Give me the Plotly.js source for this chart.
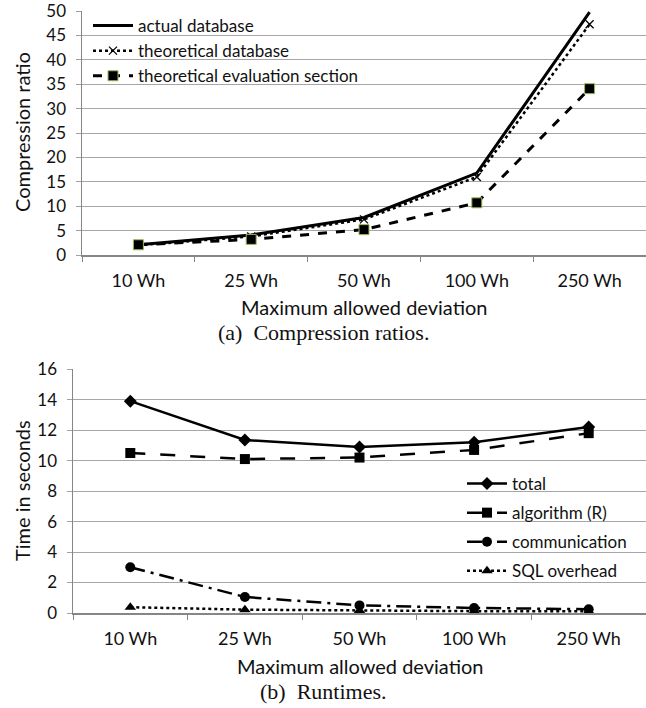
<!DOCTYPE html>
<html>
<head>
<meta charset="utf-8">
<script src="https://cdn.plot.ly/plotly-3.0.1.min.js"></script>
<style>html,body{margin:0;padding:0;background:#fff;}#chart{width:646px;height:708px;}</style>
</head>
<body>
<div id="chart"></div>
<script>
const categories = ["10 Wh", "25 Wh", "50 Wh", "100 Wh", "250 Wh"];

// (a) Compression ratios
const actualDatabase = [2.1, 4.1, 7.7, 16.8, 49.8];
const theoreticalDatabase = [2.0, 3.8, 7.3, 16.0, 47.3];
const theoreticalEvalSection = [2.1, 3.2, 5.2, 10.7, 34.1];

// (b) Runtimes
const totalTime = [13.9, 11.35, 10.9, 11.2, 12.2];
const algorithmTime = [10.5, 10.1, 10.2, 10.7, 11.8];
const communicationTime = [3.0, 1.05, 0.5, 0.33, 0.25];
const sqlOverhead = [0.38, 0.22, 0.17, 0.12, 0.12];

const FONT = "Lato, 'Open Sans', sans-serif";
const SERIF = "'Liberation Serif', 'DejaVu Serif', serif";
const W = 646, H = 708;
const px = v => v / W;
const py = v => 1 - v / H;

const traces = [
  {x: categories, y: actualDatabase, name: "actual database", type: "scatter", mode: "lines",
   line: {color: "#000", width: 3}, xaxis: "x", yaxis: "y", legend: "legend", legendgroup: "a1"},
  {x: categories, y: theoreticalDatabase, name: "theoretical database", type: "scatter", mode: "lines+markers",
   line: {color: "#000", width: 2.5, dash: "dot"},
   marker: {symbol: "x-thin", size: 8, line: {color: "#000", width: 1.3}},
   xaxis: "x", yaxis: "y", legend: "legend", legendgroup: "a2"},
  {x: categories, y: theoreticalEvalSection, name: "theoretical evaluation section", type: "scatter", mode: "lines+markers",
   line: {color: "#000", width: 3, dash: "dash"},
   marker: {symbol: "square", size: 10, color: "#000", line: {color: "#9bbb59", width: 1}},
   xaxis: "x", yaxis: "y", legend: "legend", legendgroup: "a3"},

  {x: categories, y: totalTime, name: "total", type: "scatter", mode: "lines+markers",
   line: {color: "#000", width: 2.5},
   marker: {symbol: "diamond", size: 10, color: "#000"},
   xaxis: "x2", yaxis: "y2", legend: "legend2", legendgroup: "b1"},
  {x: categories, y: algorithmTime, name: "algorithm (R)", type: "scatter", mode: "lines+markers",
   line: {color: "#000", width: 2.5, dash: "longdash"},
   marker: {symbol: "square", size: 10, color: "#000"},
   xaxis: "x2", yaxis: "y2", legend: "legend2", legendgroup: "b2"},
  {x: categories, y: communicationTime, name: "communication", type: "scatter", mode: "lines+markers",
   line: {color: "#000", width: 2.5, dash: "longdashdot"},
   marker: {symbol: "circle", size: 10, color: "#000"},
   xaxis: "x2", yaxis: "y2", legend: "legend2", legendgroup: "b3"},
  {x: categories, y: sqlOverhead, name: "SQL overhead", type: "scatter", mode: "lines+markers",
   line: {color: "#000", width: 2.5, dash: "dot"},
   marker: {symbol: "triangle-up", size: 10, color: "#000"},
   xaxis: "x2", yaxis: "y2", legend: "legend2", legendgroup: "b4"}
];

const xCommon = {
  type: "category", range: [-0.5, 4.5], tickson: "boundaries",
  ticks: "outside", ticklen: 5, tickcolor: "#868686", tickwidth: 1,
  showline: true, linecolor: "#868686", linewidth: 1.5, showgrid: false, zeroline: false,
  tickfont: {family: FONT, size: 18, color: "#111"}, ticklabelstandoff: 9,
  ticklabeloverflow: "allow", fixedrange: true
};
const yCommon = {
  ticks: "outside", ticklen: 5, tickcolor: "#a0a0a0", tickwidth: 1,
  showline: true, linecolor: "#868686", linewidth: 1.5,
  showgrid: true, gridcolor: "#a6a6a6", gridwidth: 1, zeroline: false,
  tickfont: {family: FONT, size: 17, color: "#111"}, ticklabelstandoff: 6,
  ticklabeloverflow: "allow", fixedrange: true
};

function ann(text, x, y, size, family, angle) {
  return {text: text, xref: "paper", yref: "paper", x: px(x), y: py(y),
    xanchor: "center", yanchor: "middle", showarrow: false, textangle: angle || 0,
    font: {family: family, size: size, color: "#111"}};
}

const layout = {
  width: W, height: H,
  margin: {l: 0, r: 0, t: 0, b: 0},
  paper_bgcolor: "#fff", plot_bgcolor: "#fff",
  showlegend: true,
  font: {family: FONT, color: "#111"},
  xaxis: Object.assign({}, xCommon, {domain: [px(82), 1], anchor: "y"}),
  yaxis: Object.assign({}, yCommon, {domain: [py(255), py(11)], anchor: "x", range: [0, 50.02], dtick: 5, tick0: 0}),
  xaxis2: Object.assign({}, xCommon, {domain: [px(73), 1], anchor: "y2"}),
  yaxis2: Object.assign({}, yCommon, {domain: [py(613), py(369)], anchor: "x2", range: [0, 16.01], dtick: 2, tick0: 0}),
  legend: {x: px(88), y: py(8), xanchor: "left", yanchor: "top", bgcolor: "rgba(255,255,255,0)",
    font: {family: FONT, size: 17, color: "#111"}, tracegroupgap: 0, itemwidth: 40},
  legend2: {x: px(462), y: py(466), xanchor: "left", yanchor: "top", bgcolor: "rgba(255,255,255,0)",
    font: {family: FONT, size: 17, color: "#111"}, tracegroupgap: 4, itemwidth: 40},
  annotations: [
    ann("Compression ratio", 22, 132, 20, FONT, -90),
    ann("Maximum allowed deviation", 364, 307, 20, FONT),
    ann("(a)  Compression ratios.", 323, 332, 22, SERIF),
    ann("Time in seconds", 22, 491, 20, FONT, -90),
    ann("Maximum allowed deviation", 360, 666, 20, FONT),
    ann("(b)  Runtimes.", 323, 691, 22, SERIF)
  ]
};

Plotly.newPlot("chart", traces, layout, {staticPlot: true, displayModeBar: false});
</script>
</body>
</html>
